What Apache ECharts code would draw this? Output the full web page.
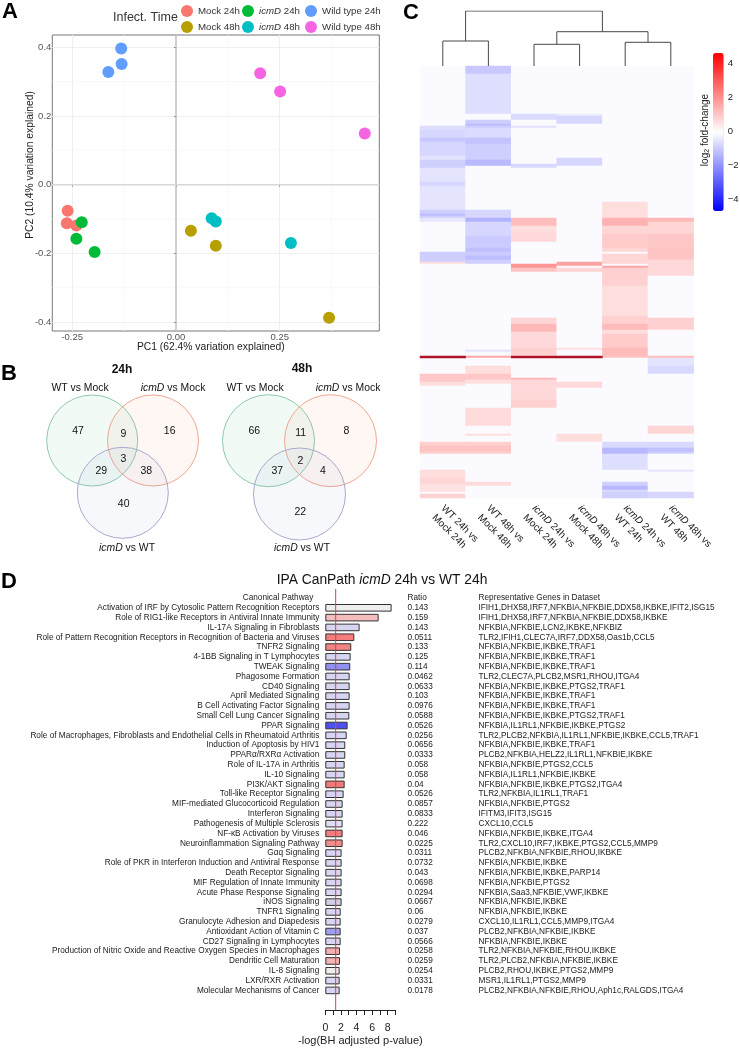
<!DOCTYPE html>
<html><head><meta charset="utf-8">
<style>html,body{margin:0;padding:0;background:#fff}#c{width:740px;height:1048px}</style>
<script src="https://cdn.jsdelivr.net/npm/echarts@6/dist/echarts.min.js"></script>
</head><body><div id="c"></div>
<script>
const FONT='"Liberation Sans", Arial, sans-serif';
// ---------- Panel A data
const pcaSeriesNames=['Mock 24h','Mock 48h','icmD 24h','icmD 48h','Wild type 24h','Wild type 48h'];
const pcaColors=['#F8766D','#B79F00','#00BA38','#00BFC4','#619CFF','#F564E3'];
const mock24=[[-0.261,-0.076],[-0.263,-0.112],[-0.240,-0.119]];
const mock48=[[0.036,-0.134],[0.096,-0.178],[0.369,-0.387]];
const icmd24=[[-0.227,-0.109],[-0.240,-0.157],[-0.196,-0.196]];
const icmd48=[[0.086,-0.098],[0.096,-0.107],[0.277,-0.170]];
const wt24=[[-0.132,0.396],[-0.131,0.351],[-0.163,0.328]];
const wt48=[[0.203,0.324],[0.251,0.271],[0.455,0.149]];
const pcaData=[mock24,mock48,icmd24,icmd48,wt24,wt48];
const pcaXTicks=[-0.25,0,0.25];
const pcaYTicks=[-0.4,-0.2,0,0.2,0.4];
const pcaXMinor=[-0.125,0.125,0.375];
const pcaYMinor=[-0.3,-0.1,0.1,0.3];
// ---------- Panel B data
const vennCounts24=[47,9,16,3,29,38,40];
const vennCounts48=[66,11,8,2,37,4,22];
const vennSetNames=['WT vs Mock','{i|icmD} vs Mock','{i|icmD} vs WT'];
const vennTitles=['24h','48h'];
// ---------- Panel C data (runs of rows: from,to,log2FC; 216 rows)
const heatColumns=['WT 24h vs\nMock 24h','WT 48h vs\nMock 48h','{i|icmD} 24h vs\nMock 24h','{i|icmD} 48h vs\nMock 48h','{i|icmD} 24h vs\nWT 24h','{i|icmD} 48h vs\nWT 48h'];
const heatBackground=-0.09;
const col1=[[30,32,-0.6],[32,36,-0.75],[36,38,-1.0],[38,45,-0.75],[45,47,-0.5],[47,51,-0.85],[51,58,-0.5],[58,60,-0.75],[60,72,-0.5],[72,74,-0.9],[74,75,-1.2],[75,76,-0.9],[76,78,-0.45],[93,98,-0.9],[98,99,0.6],[154,158,1.0],[158,160,0.6],[188,190,0.9],[190,193,1.1],[193,194,0.9],[202,206,0.6],[206,209,0.75],[209,213,0.55],[214,216,0.8]];
const col2=[[0,4,-1.0],[4,24,-0.6],[27,29,-0.9],[29,30,-1.2],[30,31,-0.9],[31,36,-0.65],[36,39,-1.1],[39,47,-0.9],[47,50,-1.25],[72,76,-0.75],[76,78,-1.4],[78,85,-0.75],[85,91,-0.95],[91,93,-1.15],[93,95,-0.95],[95,97,-1.2],[97,99,-0.9],[142,143,-0.5],[145,146,1.6],[150,154,0.6],[154,157,1.0],[157,159,0.6],[171,180,0.65],[184,185,0.6],[188,190,0.9],[190,193,1.1],[193,194,0.9],[208,210,0.65]];
const col3=[[24,27,-0.65],[30,31,-0.55],[49,51,-0.7],[76,80,1.2],[80,83,0.6],[83,88,0.7],[99,101,1.9],[101,103,1.1],[126,129,0.75],[129,133,1.3],[133,141,0.7],[141,145,0.85],[156,157,1.3],[157,167,0.7],[167,171,0.85]];
const col4=[[24,25,-0.35],[25,29,-0.75],[46,50,-0.75],[98,100,1.7],[101,102,0.7],[102,103,0.8],[141,142,0.6],[158,161,0.7],[184,188,0.6]];
const col5=[[68,76,0.6],[76,80,1.4],[80,84,0.75],[84,91,0.95],[91,93,0.75],[94,99,0.75],[100,101,1.6],[101,110,0.85],[110,125,0.6],[125,129,0.85],[129,132,1.25],[132,134,0.6],[134,141,0.95],[141,145,1.25],[145,146,1.1],[188,191,-0.7],[191,194,-1.3],[194,202,-0.6],[208,210,-0.85],[210,212,-1.3],[212,213,-0.65],[213,216,-0.85]];
const col6=[[76,78,1.3],[78,84,0.75],[84,91,1.0],[91,97,1.05],[97,105,0.7],[126,132,0.85],[145,146,1.2],[146,150,-0.5],[150,154,-0.7],[180,184,0.75],[188,191,-0.7],[191,193,-1.15],[193,194,-0.85],[202,203,-0.5],[213,216,-0.75]];
const heatRuns=[col1,col2,col3,col4,col5,col6];
const heatRowCount=216;
const peakRow=[[0,145],[2,145],[3,145]]; // strongest gene: darker than the scale's red
const dendroMerges=[ // left x, left base, right x, right base, merge height
 [0.5,0,1.5,0,25],[2.5,0,3.5,0,21.7],[4.5,0,5.5,0,23.7],[3,21.7,5,23.7,34.3],[1,25,4,34.3,55]];
const colorbarTicks=[-4,-2,0,2,4];
// ---------- Panel D data
const pathways=['Canonical Pathway','Activation of IRF by Cytosolic Pattern Recognition Receptors','Role of RIG1-like Receptors in Antiviral Innate Immunity','IL-17A Signaling in Fibroblasts','Role of Pattern Recognition Receptors in Recognition of Bacteria and Viruses','TNFR2 Signaling','4-1BB Signaling in T Lymphocytes','TWEAK Signaling','Phagosome Formation','CD40 Signaling','April Mediated Signaling','B Cell Activating Factor Signaling','Small Cell Lung Cancer Signaling','PPAR Signaling','Role of Macrophages, Fibroblasts and Endothelial Cells in Rheumatoid Arthritis','Induction of Apoptosis by HIV1','PPARα/RXRα Activation','Role of IL-17A in Arthritis','IL-10 Signaling','PI3K/AKT Signaling','Toll-like Receptor Signaling','MIF-mediated Glucocorticoid Regulation','Interferon Signaling','Pathogenesis of Multiple Sclerosis','NF-κB Activation by Viruses','Neuroinflammation Signaling Pathway','Gαq Signaling','Role of PKR in Interferon Induction and Antiviral Response','Death Receptor Signaling','MIF Regulation of Innate Immunity','Acute Phase Response Signaling','iNOS Signaling','TNFR1 Signaling','Granulocyte Adhesion and Diapedesis','Antioxidant Action of Vitamin C','CD27 Signaling in Lymphocytes','Production of Nitric Oxide and Reactive Oxygen Species in Macrophages','Dendritic Cell Maturation','IL-8 Signaling','LXR/RXR Activation','Molecular Mechanisms of Cancer'];
const logP=[null,8.5,6.84,4.4,3.72,3.33,3.25,3.2,3.12,3.12,3.12,3.12,3.08,2.86,2.74,2.56,2.56,2.48,2.48,2.48,2.35,2.22,2.22,2.22,2.22,2.22,2.09,2.09,2.09,2.09,2.09,2.09,1.97,1.97,1.97,1.97,1.88,1.88,1.84,1.84,1.84];
const barFills=[null,'#eeeeee','#f4bcbc','#d6d6f2','#f47c7c','#f48484','#d6d6f4','#9090f0','#d6d6f4','#d6d6f0','#d6d6f4','#d6d6f4','#d6d6f0','#5050f0','#d6d6f4','#d6d6f4','#d6d6f0','#d6d6f4','#d6d6f4','#f47878','#d6d6f4','#d6d6f4','#d6d6f4','#dedef4','#f47c7c','#f48c8c','#d6d6f4','#d6d6f4','#d6d6f4','#d6d6f4','#d6d6f0','#d0d0e8','#d6d6f4','#d6d6f4','#a0a0f0','#d6d6f0','#f4b0b0','#f4b4b4','#f0ecec','#d8d8f4','#d6d6f4'];
const ratios=['Ratio','0.143','0.159','0.143','0.0511','0.133','0.125','0.114','0.0462','0.0633','0.103','0.0976','0.0588','0.0526','0.0256','0.0656','0.0333','0.058','0.058','0.04','0.0526','0.0857','0.0833','0.222','0.046','0.0225','0.0311','0.0732','0.043','0.0698','0.0294','0.0667','0.06','0.0279','0.037','0.0566','0.0258','0.0259','0.0254','0.0331','0.0178'];
const genes=['Representative Genes in Dataset','IFIH1,DHX58,IRF7,NFKBIA,NFKBIE,DDX58,IKBKE,IFIT2,ISG15','IFIH1,DHX58,IRF7,NFKBIA,NFKBIE,DDX58,IKBKE','NFKBIA,NFKBIE,LCN2,IKBKE,NFKBIZ','TLR2,IFIH1,CLEC7A,IRF7,DDX58,Oas1b,CCL5','NFKBIA,NFKBIE,IKBKE,TRAF1','NFKBIA,NFKBIE,IKBKE,TRAF1','NFKBIA,NFKBIE,IKBKE,TRAF1','TLR2,CLEC7A,PLCB2,MSR1,RHOU,ITGA4','NFKBIA,NFKBIE,IKBKE,PTGS2,TRAF1','NFKBIA,NFKBIE,IKBKE,TRAF1','NFKBIA,NFKBIE,IKBKE,TRAF1','NFKBIA,NFKBIE,IKBKE,PTGS2,TRAF1','NFKBIA,IL1RL1,NFKBIE,IKBKE,PTGS2','TLR2,PLCB2,NFKBIA,IL1RL1,NFKBIE,IKBKE,CCL5,TRAF1','NFKBIA,NFKBIE,IKBKE,TRAF1','PLCB2,NFKBIA,HELZ2,IL1RL1,NFKBIE,IKBKE','NFKBIA,NFKBIE,PTGS2,CCL5','NFKBIA,IL1RL1,NFKBIE,IKBKE','NFKBIA,NFKBIE,IKBKE,PTGS2,ITGA4','TLR2,NFKBIA,IL1RL1,TRAF1','NFKBIA,NFKBIE,PTGS2','IFITM3,IFIT3,ISG15','CXCL10,CCL5','NFKBIA,NFKBIE,IKBKE,ITGA4','TLR2,CXCL10,IRF7,IKBKE,PTGS2,CCL5,MMP9','PLCB2,NFKBIA,NFKBIE,RHOU,IKBKE','NFKBIA,NFKBIE,IKBKE','NFKBIA,NFKBIE,IKBKE,PARP14','NFKBIA,NFKBIE,PTGS2','NFKBIA,Saa3,NFKBIE,VWF,IKBKE','NFKBIA,NFKBIE,IKBKE','NFKBIA,NFKBIE,IKBKE','CXCL10,IL1RL1,CCL5,MMP9,ITGA4','PLCB2,NFKBIA,NFKBIE,IKBKE','NFKBIA,NFKBIE,IKBKE','TLR2,NFKBIA,NFKBIE,RHOU,IKBKE','TLR2,PLCB2,NFKBIA,NFKBIE,IKBKE','PLCB2,RHOU,IKBKE,PTGS2,MMP9','MSR1,IL1RL1,PTGS2,MMP9','PLCB2,NFKBIA,NFKBIE,RHOU,Aph1c,RALGDS,ITGA4'];
const pThreshold=1.33;

// ---------- Layout (separate from the data)
const vennCircles=[[92.2,440.5,91,'#8cc9a8','#2aa86a'],[153,440.5,91,'#f0a58f','#f0703f'],[122.8,492.8,91,'#a8a8cc','#7a80d0'],
                   [268.5,440.7,92,'#8cc9a8','#2aa86a'],[330.5,440.7,92,'#f0a58f','#f0703f'],[299.5,494,92,'#a8a8cc','#7a80d0']];
const venn24Pos=[[78,431],[123.3,434],[169.7,431],[123.3,459.3],[101.3,470.7],[146.3,470.7],[123.7,503.7]];
const venn48Pos=[[254.3,431],[300.7,433.3],[346.3,431],[300.3,461],[277.3,471.3],[323,471.3],[300.3,512.3]];
const vennNamePos=[[80,388],[173,388],[127,548],[255,388],[348,388],[302,548]];
const vennTitlePos=[[122,370],[302,369]];

// ---------- Options
const heatData=[];
heatRuns.forEach((runs,c)=>{
  const col=new Array(heatRowCount).fill(heatBackground);
  runs.forEach(([a,b,v])=>{for(let i=a;i<b;i++)col[i]=v;});
  col.forEach((v,r)=>heatData.push([c,r,v]));
});
const rowNames=Array.from({length:heatRowCount},(_,i)=>String(i));
const guide=(pts,color,w)=>({type:'line',xAxisIndex:0,yAxisIndex:0,data:pts,showSymbol:false,silent:true,z:1,lineStyle:{color,width:w},emphasis:{disabled:true},tooltip:{show:false}});
const series=[];
pcaXMinor.forEach(x=>series.push(guide([[x,-0.4257],[x,0.4355]],'#f6f6f6',0.8)));
pcaYMinor.forEach(y=>series.push(guide([[-0.298,y],[0.49,y]],'#f6f6f6',0.8)));
series.push(guide([[0,-0.4257],[0,0.4355]],'#b4b4b4',1.2));
series.push(guide([[-0.298,0],[0.49,0]],'#d8d8d8',1.5));
pcaSeriesNames.forEach((n,i)=>series.push({type:'scatter',name:n,xAxisIndex:0,yAxisIndex:0,data:pcaData[i],symbolSize:12,z:3,itemStyle:{color:pcaColors[i],opacity:1}}));
// venn circles
series.push({type:'scatter',xAxisIndex:1,yAxisIndex:1,silent:true,z:2,
  data:vennCircles.map(c=>({value:[c[0],c[1]],symbolSize:c[2],itemStyle:{color:echarts.color.modifyAlpha(c[4],0.06),opacity:1,borderColor:c[3],borderWidth:1}}))});
const vennLabel=(pos,txts,size,weight)=>({type:'scatter',xAxisIndex:1,yAxisIndex:1,silent:true,z:4,symbolSize:1,itemStyle:{color:'rgba(0,0,0,0)',opacity:1},
  data:pos.map((p,i)=>({value:p,label:{show:true,position:'inside',formatter:String(txts[i]),fontSize:size,fontWeight:weight,color:'#111',fontFamily:FONT,
    rich:{i:{fontStyle:'italic',fontSize:size,color:'#111',fontFamily:FONT}}}}))});
series.push(vennLabel(venn24Pos,vennCounts24,10.5,'normal'));
series.push(vennLabel(venn48Pos,vennCounts48,10.5,'normal'));
series.push(vennLabel(vennNamePos,vennSetNames.concat(vennSetNames),10.4,'normal'));
series.push(vennLabel(vennTitlePos,vennTitles,12,'bold'));
// heatmap
series.push({type:'heatmap',xAxisIndex:2,yAxisIndex:2,data:heatData,progressive:0,emphasis:{disabled:true},itemStyle:{borderWidth:0}});
series.push({type:'heatmap',xAxisIndex:2,yAxisIndex:2,data:peakRow.map(([c,r])=>[c,r,1]),progressive:0,emphasis:{disabled:true},z:3});
// dendrogram
dendroMerges.forEach(m=>series.push({type:'line',xAxisIndex:3,yAxisIndex:3,showSymbol:false,silent:true,lineStyle:{color:'#484848',width:1},
  data:[[m[0],m[1]],[m[0],m[4]],[m[2],m[4]],[m[2],m[3]]]}));
// bars
series.push({type:'bar',xAxisIndex:5,yAxisIndex:5,barWidth:7.6,z:2,
  data:logP.map((v,i)=>v===null?'-':({value:v,itemStyle:{color:barFills[i],borderColor:'#333',borderWidth:1}}))});
// threshold line
series.push({type:'line',xAxisIndex:6,yAxisIndex:8,showSymbol:false,silent:true,z:6,lineStyle:{color:'#d84545',width:1},data:[[pThreshold,0],[pThreshold,1]]});

const hiddenVal=(o)=>Object.assign({type:'value',show:false,splitLine:{show:false}},o);
const heatIdx=series.findIndex(s=>s.type==='heatmap');
const G=(o)=>Object.assign({outerBoundsMode:'none',containLabel:false},o);
const option={
  animation:false,
  textStyle:{fontFamily:FONT},
  grid:[
    G({left:52.3,top:35,width:327,height:296,show:true,backgroundColor:'#fff',borderColor:'#777',borderWidth:1,z:0}),
    G({left:0,top:350,width:390,height:210}),
    G({left:420,top:66,width:273.6,height:432}),
    G({left:420,top:11,width:273.6,height:55}),
    G({left:713,top:52,width:10.7,height:158}),
    G({left:325.3,top:593.1,width:70.2,height:402.2}),
    G({left:325.3,top:589,width:70.2,height:421})
  ],
  xAxis:[
    {gridIndex:0,type:'value',min:-0.298,max:0.49,name:'PC1 (62.4% variation explained)',nameLocation:'middle',nameGap:11,nameMoveOverlap:false,
      nameTextStyle:{fontSize:10.3,color:'#222',padding:[0,10,0,0]},axisLine:{show:false},
      axisTick:{length:2,lineStyle:{color:'#888'},customValues:pcaXTicks},
      axisLabel:{customValues:pcaXTicks,fontSize:9.5,color:'#555',margin:1,formatter:v=>v.toFixed(2)},
      splitLine:{show:true,lineStyle:{color:'#efefef',width:1}}},
    hiddenVal({gridIndex:1,min:0,max:390}),
    {gridIndex:2,type:'category',data:heatColumns,axisLine:{show:false},axisTick:{show:false},splitLine:{show:false},
      axisLabel:{interval:0,rotate:-45,fontSize:10,color:'#222',margin:6,lineHeight:13,padding:[17,0,0,2],rich:{i:{fontStyle:'italic',fontSize:10,color:'#222',lineHeight:13}}}},
    hiddenVal({gridIndex:3,min:0,max:6}),
    hiddenVal({gridIndex:4,min:0,max:1}),
    hiddenVal({gridIndex:5,min:0,max:9}),
    {gridIndex:6,type:'value',min:0,max:9,interval:1,name:'-log(BH adjusted p-value)',nameLocation:'middle',nameGap:25,
      nameTextStyle:{fontSize:11,color:'#222'},splitLine:{show:false},
      axisLine:{show:true,lineStyle:{color:'#222',width:1}},axisTick:{length:5,lineStyle:{color:'#222'}},
      axisLabel:{fontSize:10.5,color:'#222',margin:13,showMinLabel:true,formatter:v=>v%2===0&&v<9?String(v):''}}
  ],
  yAxis:[
    {gridIndex:0,type:'value',min:-0.4257,max:0.4355,name:'PC2 (10.4% variation explained)',nameLocation:'middle',nameGap:17,nameMoveOverlap:false,
      nameTextStyle:{fontSize:10.3,color:'#222',padding:[0,0,0,36]},axisLine:{show:false},
      axisTick:{length:2,lineStyle:{color:'#888'},customValues:pcaYTicks},
      axisLabel:{customValues:pcaYTicks,fontSize:9.5,color:'#555',margin:1,formatter:v=>v.toFixed(1)},
      splitLine:{show:true,lineStyle:{color:'#efefef',width:1}}},
    hiddenVal({gridIndex:1,min:350,max:560,inverse:true}),
    {gridIndex:2,type:'category',data:rowNames,inverse:true,show:false,splitLine:{show:false}},
    hiddenVal({gridIndex:3,min:0,max:55}),
    {gridIndex:4,type:'value',position:'right',min:-4.65,max:4.65,axisLine:{show:false},splitLine:{show:false},
      axisTick:{show:false,customValues:colorbarTicks},
      axisLabel:{customValues:colorbarTicks,fontSize:9.5,color:'#222',margin:4,formatter:v=>String(v).replace('-','\u2212')}},
    {gridIndex:5,type:'category',data:pathways,inverse:true,axisLine:{show:false},axisTick:{show:false},splitLine:{show:false},
      axisLabel:{interval:0,fontSize:8.25,color:'#222',margin:6,formatter:(v,i)=>i===0?'{h|'+v+'}':v,rich:{h:{fontSize:8.25,color:'#222',padding:[0,6,0,0]}}}},
    {gridIndex:5,type:'category',position:'right',data:ratios,inverse:true,axisLine:{show:false},axisTick:{show:false},splitLine:{show:false},
      axisLabel:{interval:0,fontSize:8.25,color:'#222',margin:12,align:'left'}},
    {gridIndex:5,type:'category',position:'right',data:genes,inverse:true,axisLine:{show:false},axisTick:{show:false},splitLine:{show:false},
      axisLabel:{interval:0,fontSize:8.25,color:'#222',margin:83,align:'left'}},
    hiddenVal({gridIndex:6,min:0,max:1})
  ],
  legend:[[0,1,181],[2,3,242],[4,5,305]].map(([a,b,l])=>({
    data:[pcaSeriesNames[a],pcaSeriesNames[b]],orient:'vertical',left:l,top:5,itemWidth:12,itemHeight:12,itemGap:4,icon:'circle',padding:0,selectedMode:false,
    textStyle:{fontSize:9.7,color:'#333',rich:{i:{fontStyle:'italic',fontSize:9.7,color:'#333'}}},
    formatter:n=>n.replace('icmD','{i|icmD}')
  })),
  visualMap:[
   {type:'continuous',seriesIndex:heatIdx,min:-4.65,max:4.65,left:713,top:53,itemWidth:10.7,itemHeight:158,
    calculable:false,hoverLink:false,padding:0,inRange:{color:['#0000ff','#ffffff','#ff0000']},text:null,showLabel:false},
   {type:'continuous',seriesIndex:heatIdx+1,min:0,max:1,show:false,inRange:{color:['#b01424','#b01424']}}
  ],
  series,
  graphic:[
    ...[['A',2,12],['B',1,374],['C',403,13],['D',1,582]].map(([t,x,y])=>({type:'text',style:{text:t,x,y,fill:'#000',font:'bold 22px '+FONT,textVerticalAlign:'middle'}})),
    {type:'text',style:{text:'Infect. Time',x:113,y:17.5,fill:'#333',font:'12.5px '+FONT,textVerticalAlign:'middle'}},
    {type:'text',x:705,y:130,rotation:Math.PI/2,style:{text:'log{s|2} fold-change',x:0,y:0,fill:'#222',font:'10px '+FONT,textAlign:'center',textVerticalAlign:'middle',
      rich:{s:{fontSize:7,fill:'#222',padding:[5,0,0,0],fontFamily:FONT}}}},
    {type:'text',style:{text:'IPA CanPath {i|icmD} 24h vs WT 24h',x:382,y:580,fill:'#111',font:'13.8px '+FONT,textAlign:'center',textVerticalAlign:'middle',
      rich:{i:{fontStyle:'italic',fontSize:13.8,fill:'#111',fontFamily:FONT}}}}
  ]
};
const chart=echarts.init(document.getElementById('c'),null,{renderer:'canvas',width:740,height:1048});
chart.setOption(option);
</script></body></html>
